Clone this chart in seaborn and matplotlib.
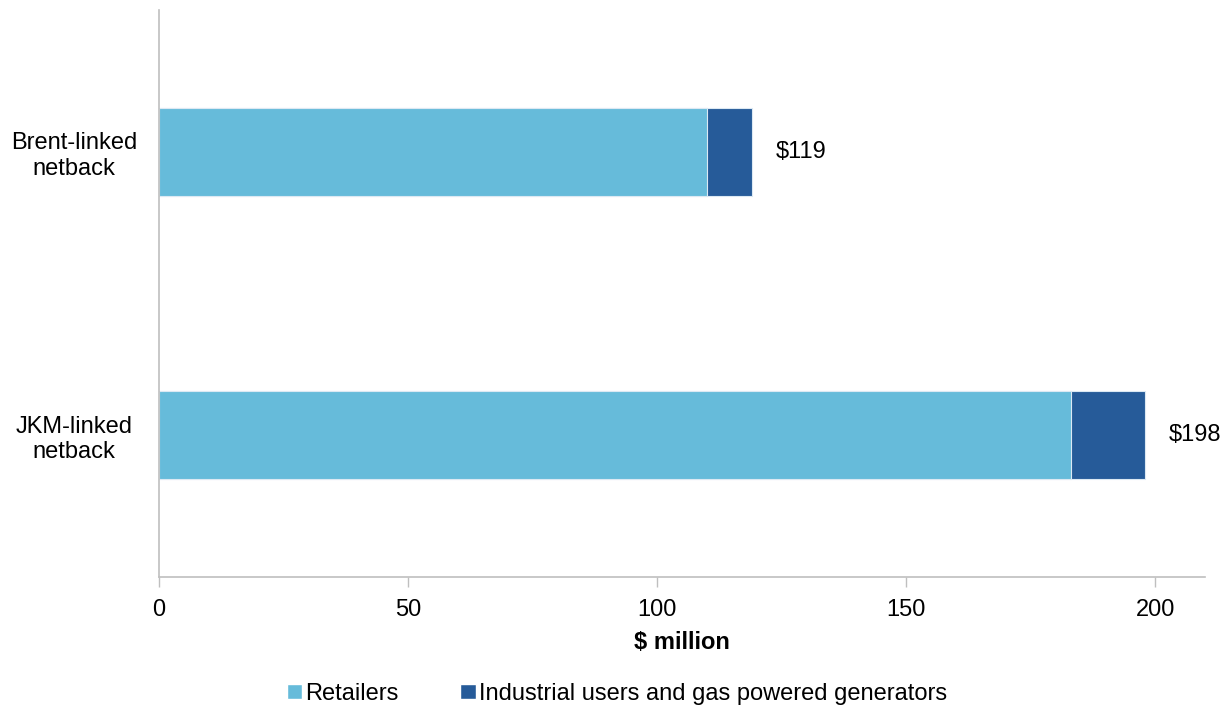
import pandas as pd
import matplotlib
matplotlib.use("Agg")
import matplotlib.pyplot as plt
from matplotlib.patches import Patch
import seaborn as sns

# data
categories = ["Brent-linked\nnetback", "JKM-linked\nnetback"]
retailers = [110, 183]
industrial = [9, 15]
series_names = ["Retailers", "Industrial users and gas powered generators"]
x_ticks = [0, 50, 100, 150, 200]

RETAIL_COL = "#66BBDA"
INDUST_COL = "#265B99"
GREY = "#BFBFBF"
FS = 17

sns.set_theme(style="white")
plt.rcParams["font.family"] = ["Liberation Sans", "DejaVu Sans"]
plt.rcParams["text.color"] = "black"
plt.rcParams["axes.labelcolor"] = "black"

df = pd.DataFrame({"category": categories,
                   "retailers": retailers,
                   "industrial": industrial})
df["total"] = df["retailers"] + df["industrial"]

fig = plt.figure(figsize=(12.29, 7.09), dpi=100)
ax = fig.add_axes([0.1294, 0.1862, 0.8511, 0.7997])

# stacked: draw the total first, then the retailers part over it
sns.barplot(data=df, y="category", x="total", color=INDUST_COL, saturation=1,
            width=0.31, edgecolor="#dce9f3", linewidth=0.8, ax=ax)
sns.barplot(data=df, y="category", x="retailers", color=RETAIL_COL, saturation=1,
            width=0.31, edgecolor="#dce9f3", linewidth=0.8, ax=ax)

for i, tot in enumerate(df["total"]):
    ax.annotate(f"${tot:.0f}", xy=(tot, i), xytext=(17, 0),
                textcoords="offset points", ha="left", va="center",
                fontsize=FS, color="black")

ax.set_xlim(0, 210)
ax.set_ylim(1.5, -0.5)
ax.set_xticks(x_ticks)
ax.tick_params(axis="x", labelsize=FS, colors=GREY, labelcolor="black",
               direction="out", length=7, width=1, pad=9, bottom=True)
ax.tick_params(axis="y", labelsize=FS, labelcolor="black", length=0, pad=16)
for lab in ax.get_yticklabels():
    lab.set_horizontalalignment("center")
    lab.set_x(-0.06)
ax.set_xlabel("$ million", fontsize=FS, fontweight="bold", labelpad=7)
ax.set_ylabel("")

sns.despine(ax=ax, top=True, right=True)
for s in ["left", "bottom"]:
    ax.spines[s].set_color(GREY)
    ax.spines[s].set_linewidth(1.2)

handles = [Patch(facecolor=RETAIL_COL, label=series_names[0]),
           Patch(facecolor=INDUST_COL, label=series_names[1])]
fig.legend(handles=handles, loc="lower center", bbox_to_anchor=(0.502, -0.024),
           ncol=2, frameon=False, fontsize=FS, handlelength=0.65,
           handleheight=0.65, handletextpad=0.15, columnspacing=2.6)

fig.savefig("out.png", dpi=100)
